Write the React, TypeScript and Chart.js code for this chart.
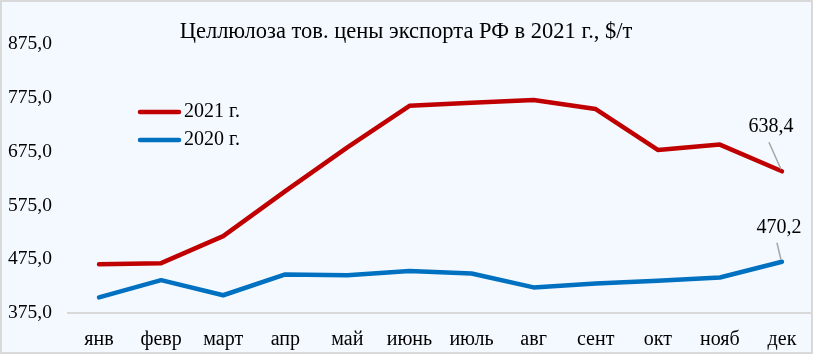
import React, { useEffect, useRef } from "react";
import { Chart, registerables } from "chart.js";

Chart.register(...registerables);

const months = ["янв", "февр", "март", "апр", "май", "июнь", "июль", "авг", "сент", "окт", "нояб", "дек"];
const values2021 = [465.7, 467.6, 518, 601.5, 683, 760, 766, 771, 754, 678, 688, 638.4];
const values2020 = [404, 436, 408, 446.6, 445, 453, 448.5, 422.6, 430, 435, 441, 470.2];
const label2021 = "2021 г.";
const label2020 = "2020 г.";
const titleText = "Целлюлоза тов. цены экспорта РФ в 2021 г., $/т";
const yMin = 375;
const yMax = 875;
const yStep = 100;

const FONT = "'Liberation Serif', 'DejaVu Serif', serif";

const fmt = (v: number) => v.toFixed(1).replace(".", ",");

const decorPlugin = {
  id: "decor",
  beforeDraw(chart: any) {
    const { ctx, width, height } = chart;
    ctx.save();
    ctx.fillStyle = "#f3f9fe";
    ctx.fillRect(0, 0, width, height);
    ctx.strokeStyle = "#d9d9d9";
    ctx.lineWidth = 2;
    ctx.strokeRect(1, 1, width - 2, height - 2);
    ctx.restore();
  },
  afterDraw(chart: any) {
    const { ctx } = chart;
    ctx.save();
    // title
    ctx.fillStyle = "#000";
    ctx.font = `22.5px ${FONT}`;
    ctx.textAlign = "center";
    ctx.textBaseline = "middle";
    ctx.fillText(titleText, 406, 32);
    // legend
    const legendY = [112, 140];
    chart.data.datasets.forEach((ds: any, i: number) => {
      const y = legendY[i];
      ctx.strokeStyle = ds.borderColor;
      ctx.lineWidth = 4.5;
      ctx.lineCap = "round";
      ctx.beginPath();
      ctx.moveTo(140, y);
      ctx.lineTo(179, y);
      ctx.stroke();
      ctx.fillStyle = "#000";
      ctx.font = `20px ${FONT}`;
      ctx.textAlign = "left";
      ctx.textBaseline = "middle";
      ctx.fillText(ds.label, 184, y);
    });
    // data labels on last points
    const specs = [
      { dx: -11, dy: -45, lx: -13, ly: -29 },
      { dx: -3, dy: -34, lx: -5, ly: -19 },
    ];
    chart.data.datasets.forEach((ds: any, i: number) => {
      const meta = chart.getDatasetMeta(i);
      const last = meta.data.length - 1;
      const pt = meta.data[last];
      const s = specs[i];
      ctx.strokeStyle = "#a6a6a6";
      ctx.lineWidth = 1.5;
      ctx.lineCap = "butt";
      ctx.beginPath();
      ctx.moveTo(pt.x + s.lx, pt.y + s.ly);
      ctx.lineTo(pt.x - 1, pt.y - 2);
      ctx.stroke();
      ctx.fillStyle = "#000";
      ctx.font = `20px ${FONT}`;
      ctx.textAlign = "center";
      ctx.textBaseline = "middle";
      ctx.fillText(fmt(ds.data[last]), pt.x + s.dx, pt.y + s.dy);
    });
    ctx.restore();
  },
};

export default function App() {
  const ref = useRef<HTMLCanvasElement | null>(null);
  useEffect(() => {
    if (!ref.current) return;
    const chart = new Chart(ref.current, {
      type: "line",
      data: {
        labels: months,
        datasets: [
          {
            label: label2021,
            data: values2021,
            borderColor: "#c00000",
            backgroundColor: "#c00000",
            borderWidth: 4.5,
            pointRadius: 0,
            tension: 0,
            borderCapStyle: "round",
            borderJoinStyle: "round",
          },
          {
            label: label2020,
            data: values2020,
            borderColor: "#0070c0",
            backgroundColor: "#0070c0",
            borderWidth: 4.5,
            pointRadius: 0,
            tension: 0,
            borderCapStyle: "round",
            borderJoinStyle: "round",
          },
        ],
      },
      options: {
        animation: false,
        responsive: false,
        maintainAspectRatio: false,
        layout: { padding: { left: 8, right: 0, top: 44, bottom: 0 } },
        plugins: {
          legend: { display: false },
          title: { display: false },
          tooltip: { enabled: false },
        },
        scales: {
          x: {
            offset: true,
            grid: { display: false, drawTicks: false },
            border: { display: true, color: "#d9d9d9", width: 2 },
            ticks: {
              color: "#000",
              font: { family: FONT, size: 20 },
              padding: 15,
              maxRotation: 0,
              autoSkip: false,
            },
            afterFit: (scale: any) => {
              scale.height = 41;
            },
          },
          y: {
            min: yMin,
            max: yMax,
            grid: { display: false, drawTicks: false },
            border: { display: false },
            ticks: {
              stepSize: yStep,
              color: "#000",
              font: { family: FONT, size: 19.5 },
              crossAlign: "far",
              padding: 0,
              callback: (v: any) => fmt(Number(v)),
            },
            afterFit: (scale: any) => {
              scale.width = 60;
            },
          },
        },
      },
      plugins: [decorPlugin],
    });
    return () => chart.destroy();
  }, []);
  return (
    <div style={{ position: "fixed", left: 0, top: 0, width: 813, height: 354 }}>
      <canvas ref={ref} width={813} height={354} style={{ display: "block" }} />
    </div>
  );
}
